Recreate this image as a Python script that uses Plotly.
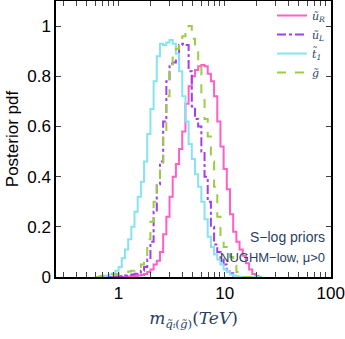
import numpy as np
import plotly.graph_objects as go

# histogram bins in log10(m / TeV): centres, width 0.03
log_m_centres = [round(-0.195 + 0.03 * k, 3) for k in range(52)]
bin_width = 0.03

u_R = [0, 0, 0, 0, 0, 0, 0, 0, 0, 0.001, 0.002, 0.003, 0.004, 0.006, 0.008, 0.012,
       0.02, 0.03, 0.05, 0.065, 0.10, 0.17, 0.24, 0.32, 0.40, 0.45, 0.51, 0.58, 0.69,
       0.76, 0.80, 0.825, 0.84, 0.845, 0.84, 0.81, 0.78, 0.72, 0.62, 0.52, 0.43, 0.35,
       0.25, 0.18, 0.14, 0.11, 0.085, 0.055, 0.03, 0.012, 0.004, 0]
u_L = [0, 0, 0, 0, 0, 0.001, 0.002, 0.003, 0.004, 0.006, 0.008, 0.01, 0.013, 0.018,
       0.025, 0.04, 0.07, 0.14, 0.26, 0.37, 0.46, 0.62, 0.78, 0.85, 0.855, 0.87, 0.925,
       0.93, 0.925, 0.82, 0.68, 0.63, 0.60, 0.50, 0.40, 0.30, 0.20, 0.13, 0.10, 0.07,
       0.05, 0.03, 0.015, 0.005, 0.001, 0, 0, 0, 0, 0, 0, 0]
t_1 = [0, 0.002, 0.004, 0.006, 0.01, 0.015, 0.025, 0.04, 0.075, 0.11, 0.15, 0.20, 0.26,
       0.32, 0.38, 0.46, 0.57, 0.67, 0.78, 0.88, 0.93, 0.925, 0.935, 0.945, 0.93, 0.89,
       0.82, 0.72, 0.62, 0.53, 0.47, 0.41, 0.36, 0.30, 0.23, 0.16, 0.12, 0.09, 0.07, 0.05,
       0.03, 0.02, 0.01, 0.005, 0.002, 0, 0, 0, 0, 0, 0, 0]
gluino = [0, 0.003, 0.005, 0.007, 0.009, 0.01, 0.012, 0.014, 0.017, 0.02, 0.022, 0.025,
          0.03, 0.04, 0.05, 0.08, 0.15, 0.22, 0.30, 0.39, 0.45, 0.58, 0.72, 0.82, 0.89,
          0.91, 0.93, 0.96, 0.99, 1.0, 0.95, 0.90, 0.84, 0.72, 0.63, 0.56, 0.46, 0.36, 0.24,
          0.16, 0.12, 0.10, 0.08, 0.045, 0.02, 0.008, 0, 0, 0, 0, 0, 0]

y_ticks = [0, 0.2, 0.4, 0.6, 0.8, 1]
y_tick_text = ["0", "0.2", "0.4", "0.6", "0.8", "1"]
decades = [0.1, 1, 10, 100]
x_tick_text = {1: "1", 10: "10", 100: "100"}

series = [
    ("<i>ũ<sub>R</sub></i>", u_R, "#ff5fc8", "solid"),
    ("<i>ũ<sub>L</sub></i>", u_L, "#a23cf5", "dashdot"),
    ("<i>t̃<sub>1</sub></i>", t_1, "#86e3f0", "solid"),
    ("<i>g̃</i>", gluino, "#9ccc48", "dash"),
]

# log axis ticks: every 1..9 x decade, labels only on decades
x_ticks, x_labels = [], []
for d in decades:
    for m in range(1, 10):
        v = round(d * m, 6)
        if 0.25 <= v <= 100:
            x_ticks.append(v)
            x_labels.append(x_tick_text.get(v, ""))

# step curve: left bin edges with 'hv', plus the closing right edge
edges = np.array(log_m_centres) - bin_width / 2
x_step = list(10 ** edges) + [10 ** (edges[-1] + bin_width)]

fig = go.Figure()
for name, vals, col, dash in series:
    fig.add_trace(go.Scatter(
        x=x_step, y=list(vals) + [vals[-1]],
        mode="lines", line=dict(color=col, width=2, dash=dash, shape="hv"),
        name=name))

axis_font = dict(family="Liberation Sans, Arial", size=17, color="black")

fig.update_layout(
    width=345, height=339,
    margin=dict(l=56, r=14, t=1, b=62),
    plot_bgcolor="white", paper_bgcolor="white",
    showlegend=True,
    legend=dict(x=1.0, y=1.0, xanchor="right", yanchor="top",
                bgcolor="rgba(0,0,0,0)", font=dict(family="DejaVu Serif", size=11),
                tracegroupgap=0, itemwidth=30),
    xaxis=dict(type="log", range=[-0.59, 2.002], tickvals=x_ticks, ticktext=x_labels,
               ticks="inside", ticklen=5, showline=True, linecolor="black", linewidth=1.5,
               mirror="allticks", showgrid=False, zeroline=False, tickfont=axis_font,
               automargin=False,
               title=dict(text="<i>m</i><sub><i>q̃ᵢ</i>(<i>g̃</i>)</sub>(<i>TeV</i>)",
                          font=dict(family="DejaVu Serif", size=17), standoff=10)),
    yaxis=dict(range=[0, 1.1], tickvals=y_ticks, ticktext=y_tick_text,
               ticks="inside", ticklen=5, showline=True, linecolor="black", linewidth=1.5,
               mirror="allticks", showgrid=False, zeroline=False, tickfont=axis_font,
               automargin=False,
               title=dict(text="Posterior pdf", font=axis_font, standoff=4)),
)

fig.add_annotation(x=0.985, y=0.145, xref="paper", yref="paper", xanchor="right",
                   yanchor="middle", text="S−log priors", showarrow=False,
                   font=dict(family="Liberation Sans, Arial", size=14))
fig.add_annotation(x=0.985, y=0.069, xref="paper", yref="paper", xanchor="right",
                   yanchor="middle", text="NUGHM−low, μ>0", showarrow=False,
                   font=dict(family="Liberation Sans, Arial", size=13))

# the page's default body margin would shift the figure by 8px
fig.write_html("out.html", config={"displayModeBar": False},
               post_script="document.body.style.margin='0';")
